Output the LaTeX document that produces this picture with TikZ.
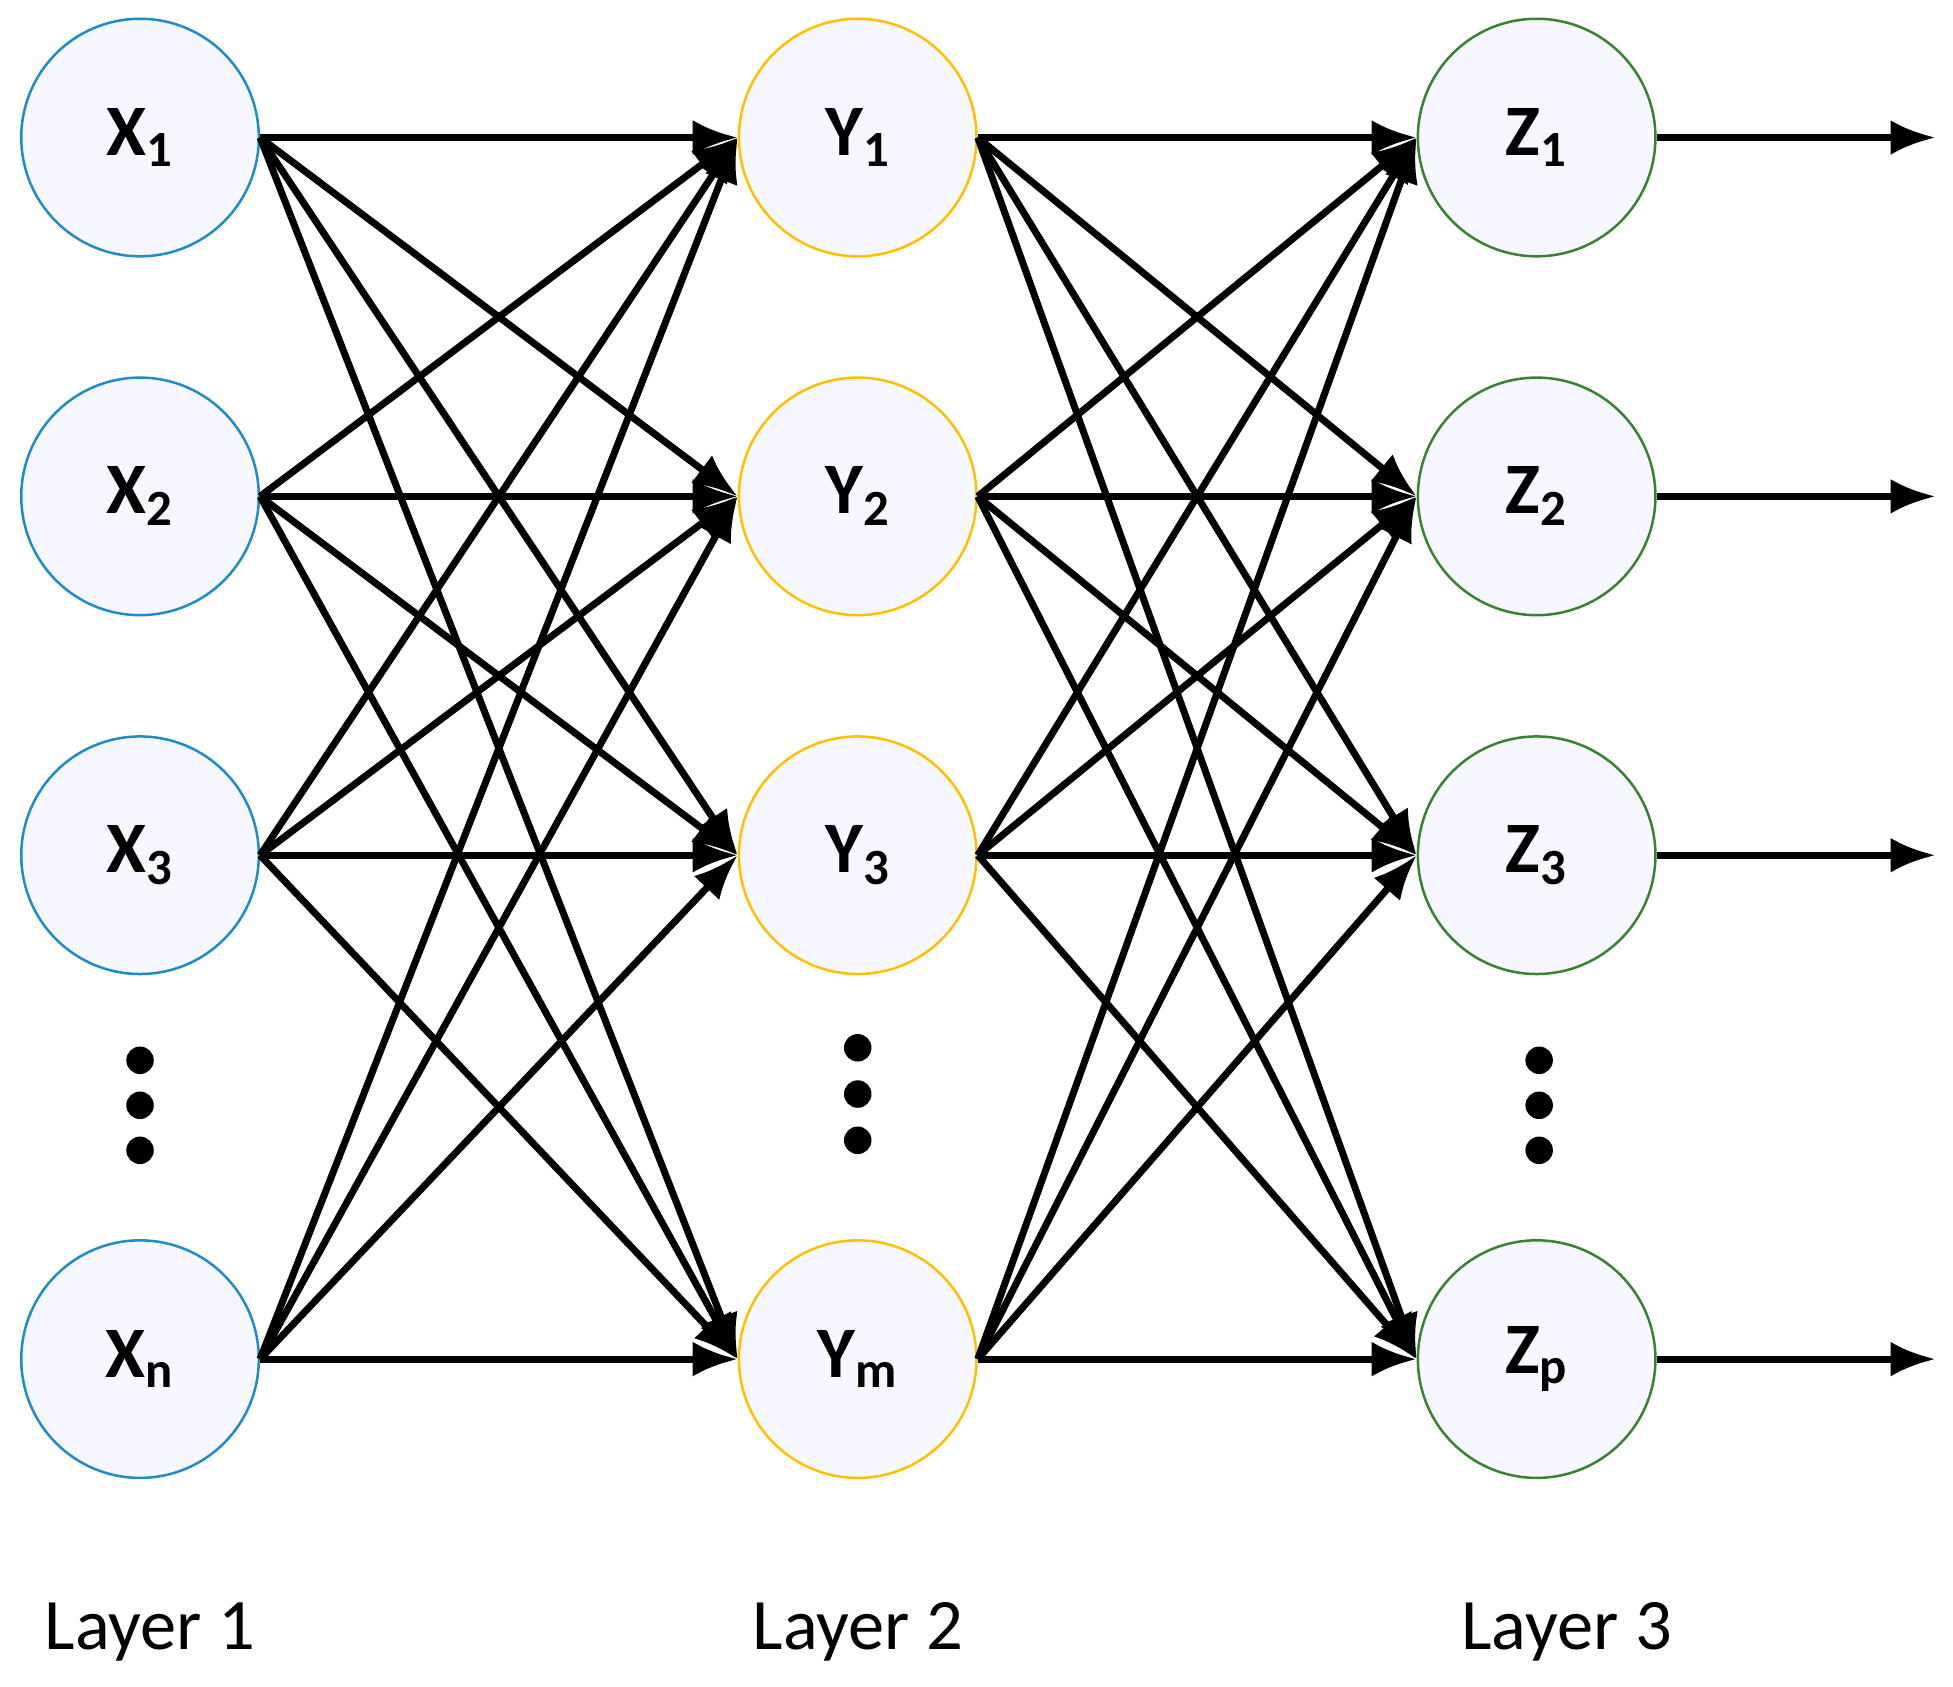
\documentclass[tikz,border=0pt]{standalone}
\usepackage{fontspec}
\setmainfont{Carlito}
\usetikzlibrary{arrows.meta}
\definecolor{cb}{RGB}{30,140,200}
\definecolor{cy}{RGB}{255,192,0}
\definecolor{cg}{RGB}{56,130,50}
\begin{document}
\begin{tikzpicture}[x=0.5pt,y=-0.5pt,
  neuron/.style={circle,minimum size=95pt,inner sep=0pt,line width=1pt,fill=blue!3,font=\fontsize{29}{32}\selectfont\bfseries},
  con/.style={line width=2.8pt,-{Latex[length=18pt,width=14pt]}},
  dot/.style={circle,fill=black,inner sep=0pt,minimum size=11pt},
  lab/.style={font=\fontsize{29}{32}\selectfont}]
\useasboundingbox (0,0) rectangle (1562,1349);
\foreach \n/\y/\lb in {1/110/1,2/397/2,3/684/3,4/1087/n}{
  \node[neuron,draw=cb] (X\n) at (112,\y) {X\textsubscript{\lb}};}
\foreach \n/\y/\lb in {1/110/1,2/397/2,3/684/3,4/1087/m}{
  \node[neuron,draw=cy] (Y\n) at (686,\y) {Y\textsubscript{\lb}};}
\foreach \n/\y/\lb in {1/110/1,2/397/2,3/684/3,4/1087/p}{
  \node[neuron,draw=cg] (Z\n) at (1229,\y) {Z\textsubscript{\lb}};}
\foreach \i in {1,...,4}{\foreach \j in {1,...,4}{
  \draw[con] (X\i.east) -- (Y\j.west);
  \draw[con] (Y\i.east) -- (Z\j.west);}}
\foreach \i/\y in {1/110,2/397,3/684,4/1087}{
  \coordinate (O\i) at (1548,\y);
  \draw[con] (Z\i.east) -- (O\i);}
\foreach \c/\x/\y in {a/112/848,b/112/884,c/112/920,d/686/838,e/686/875,f/686/912,g/1231/848,h/1231/884,i/1231/920}
  \node[dot] (d\c) at (\x,\y) {};
\node[lab] (L1) at (120,1305) {Layer 1};
\node[lab] (L2) at (686,1305) {Layer 2};
\node[lab] (L3) at (1253,1305) {Layer 3};
\end{tikzpicture}
\end{document}
